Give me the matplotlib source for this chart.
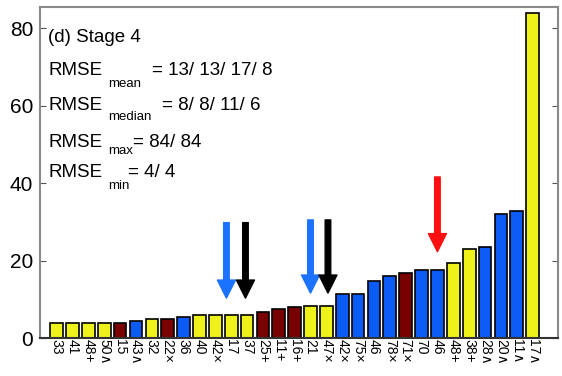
import numpy as np
import matplotlib
matplotlib.use("Agg")
import matplotlib.pyplot as plt

plt.rcParams['font.family'] = ['Liberation Sans', 'DejaVu Sans']

# ==== data ====
heights = [4, 4, 4, 4, 4, 4.5, 4.8, 4.8, 5.5, 6, 6, 6, 6, 6.7, 7.5, 8,
           8.2, 8.2, 11.3, 11.3, 14.7, 16, 16.7, 17.5, 17.5, 19.5, 23, 23.4,
           32, 32.9, 84]
groups = ['y', 'y', 'y', 'y', 'r', 'b', 'y', 'r', 'b', 'y', 'y', 'y', 'y',
          'r', 'r', 'r', 'y', 'y', 'b', 'b', 'b', 'b', 'r', 'b', 'b', 'y',
          'y', 'b', 'b', 'b', 'y']
codes = ['33', '41', '48', '50', '15', '43', '32', '22', '36', '40', '42',
         '17', '37', '25', '11', '16', '21', '47', '42', '75', '46', '78',
         '71', '70', '46', '48', '38', '28', '20', '11', '17']
marks = ['', '', '+', '\u2227', '', '\u2227', '', '\u00d7', '', '', '\u00d7',
         '', '', '+', '+', '+', '', '\u00d7', '\u00d7', '\u00d7', '', '\u00d7',
         '\u00d7', '', '', '+', '+', '\u2227', '\u2227', '\u2227', '\u2227']

# arrows: x position, top, tip, colour
arrow_x = [11.7, 12.9, 17.0, 18.1, 25.0]
arrow_top = [29.8, 29.8, 30.5, 30.5, 41.6]
arrow_tip = [10.3, 10.3, 11.6, 11.6, 22.3]
arrow_col = ['#1a72ff', 'black', '#1a72ff', 'black', '#ff1010']

# text box: RMSE subscripts and values
sub_names = ['mean', 'median', 'max', 'min']
sub_values = ['= 13/ 13/ 17/ 8', '= 8/ 8/ 11/ 6', '= 84/ 84', '= 4/ 4']

colour_map = {'y': '#eef21a', 'b': '#0a5cf5', 'r': '#780000'}

W, H = 562, 376
fig = plt.figure(figsize=(W / 100, H / 100), dpi=100)
ax = fig.add_axes([40 / W, 1 - 338 / H, 518 / W, 331 / H])

x = np.arange(1, len(heights) + 1)
ax.bar(x, heights, width=0.8, color=[colour_map[g] for g in groups],
       edgecolor='black', linewidth=1.2)

for xa, yt, yb, c in zip(arrow_x, arrow_top, arrow_tip, arrow_col):
    ax.annotate('', xy=(xa, yb), xytext=(xa, yt),
                arrowprops=dict(facecolor=c, edgecolor=c, width=4,
                                headwidth=13, headlength=13))

ax.set_xlim(-0.05, 32.6)
ax.set_ylim(0, 85.5)
ax.set_yticks([0, 20, 40, 60, 80])
ax.tick_params(axis='y', direction='in', right=True, length=4,
               labelsize=15, pad=5, color='#555555')

ax.set_xticks(x)
ax.set_xticklabels([c + m for c, m in zip(codes, marks)], rotation=-90,
                   fontsize=10, ha='center', va='top')
ax.tick_params(axis='x', length=0, pad=1)

for s in ax.spines.values():
    s.set_color('#8a8a8a')
    s.set_linewidth(1.5)
ax.spines['bottom'].set_color('#333333')

# text lines placed in pixel positions (baselines)
def px(xp, yp):
    return xp / W, 1 - yp / H

fig.text(*px(48, 42), '(d) Stage 4', fontsize=13.5, va='baseline')
line_base = [75, 110, 147, 177]
sub_base = [87, 120, 154, 189]
val_x = [152, 162, 133, 128]
for name, val, yb, ys, xv in zip(sub_names, sub_values, line_base,
                                  sub_base, val_x):
    fig.text(*px(48, yb), 'RMSE', fontsize=13.5, va='baseline')
    fig.text(*px(108, ys), name, fontsize=9.5, va='baseline')
    fig.text(*px(xv, yb), val, fontsize=13.5, va='baseline')

plt.savefig('out.png', dpi=100)
plt.close()
